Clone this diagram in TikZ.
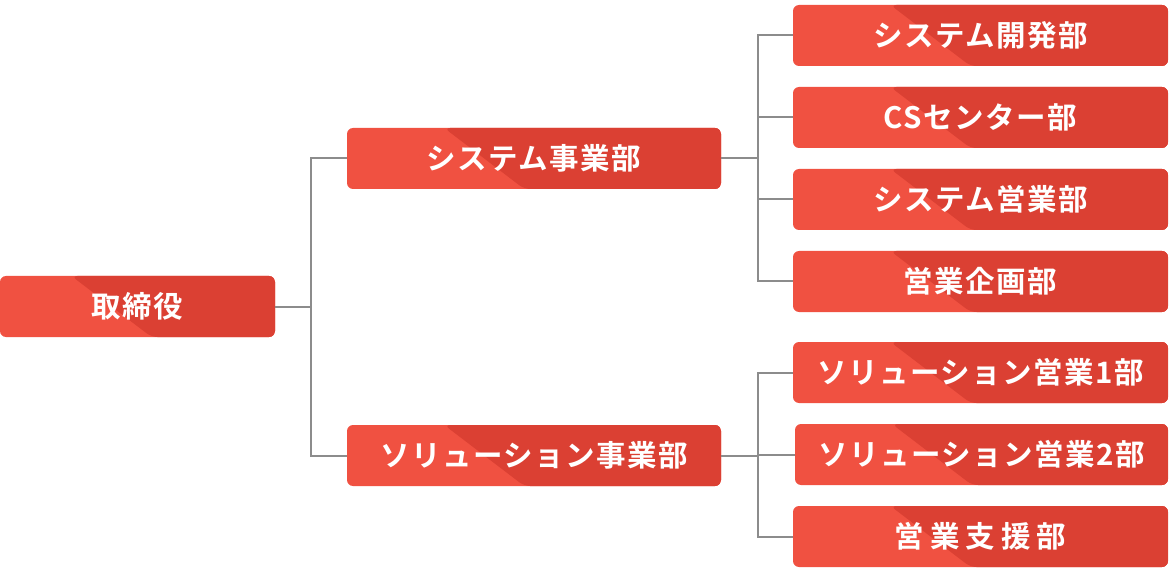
\documentclass[tikz,border=0pt]{standalone}
\usepackage{fontspec}
\setmainfont{Noto Sans CJK JP}[BoldFont={Noto Sans CJK JP Bold},LetterSpace=5]
\usetikzlibrary{calc}
\definecolor{boxlight}{HTML}{F05141}
\definecolor{boxdark}{HTML}{DB4033}
\definecolor{linkgray}{HTML}{8C8C8C}
\tikzset{
  unit/.style={fill=boxlight, rounded corners=6bp, minimum height=61bp, inner sep=0pt,
    text=white, font=\fontsize{29.5bp}{32bp}\selectfont\bfseries,
    path picture={
      \fill[boxdark] ($(path picture bounding box.north west)!0.26!(path picture bounding box.north east)$)
        -- ++(80bp,-61bp) -- (path picture bounding box.south east)
        -- (path picture bounding box.north east) -- cycle;}},
  small/.style={unit, minimum width=275bp},
  wide/.style={unit, minimum width=375bp},
  link/.style={draw=linkgray, line width=2bp}
}
\begin{document}
\begin{tikzpicture}[x=1bp, y=-1bp]
  \useasboundingbox (0,0) rectangle (1170,570);
  % boxes
  \node[small] (board) at (137.5,306.5) {取締役};
  \node[wide, minimum width=374bp] (sysdiv) at (534,158.5) {システム事業部};
  \node[wide, minimum width=374bp] (soldiv) at (534,455.5) {ソリューション事業部};
  \node[wide] (sysdev) at (980.5,35.5) {システム開発部};
  \node[wide] (cs) at (980.5,117.5) {CSセンター部};
  \node[wide] (syssales) at (980.5,199.5) {システム営業部};
  \node[wide] (plan) at (980.5,281.5) {営業企画部};
  \node[wide] (sol1) at (980.5,372.5) {ソリューション営業1部};
  \node[wide, minimum width=373bp] (sol2) at (981.5,454.5) {ソリューション営業2部};
  \node[wide] (support) at (980.5,536.5) {営\hspace{6bp}業\hspace{6bp}支\hspace{6bp}援\hspace{6bp}部};
  % links
  \draw[link] (board.east) -- ++(36,0) |- (sysdiv.west);
  \draw[link] (board.east) -- ++(36,0) |- (soldiv.west);
  \foreach \n in {sysdev, cs, syssales, plan}
    \draw[link] (sysdiv.east) -- ++(37,0) |- (\n.west);
  \foreach \n in {sol1, sol2, support}
    \draw[link] (soldiv.east) -- ++(37,0) |- (\n.west);
\end{tikzpicture}
\end{document}
